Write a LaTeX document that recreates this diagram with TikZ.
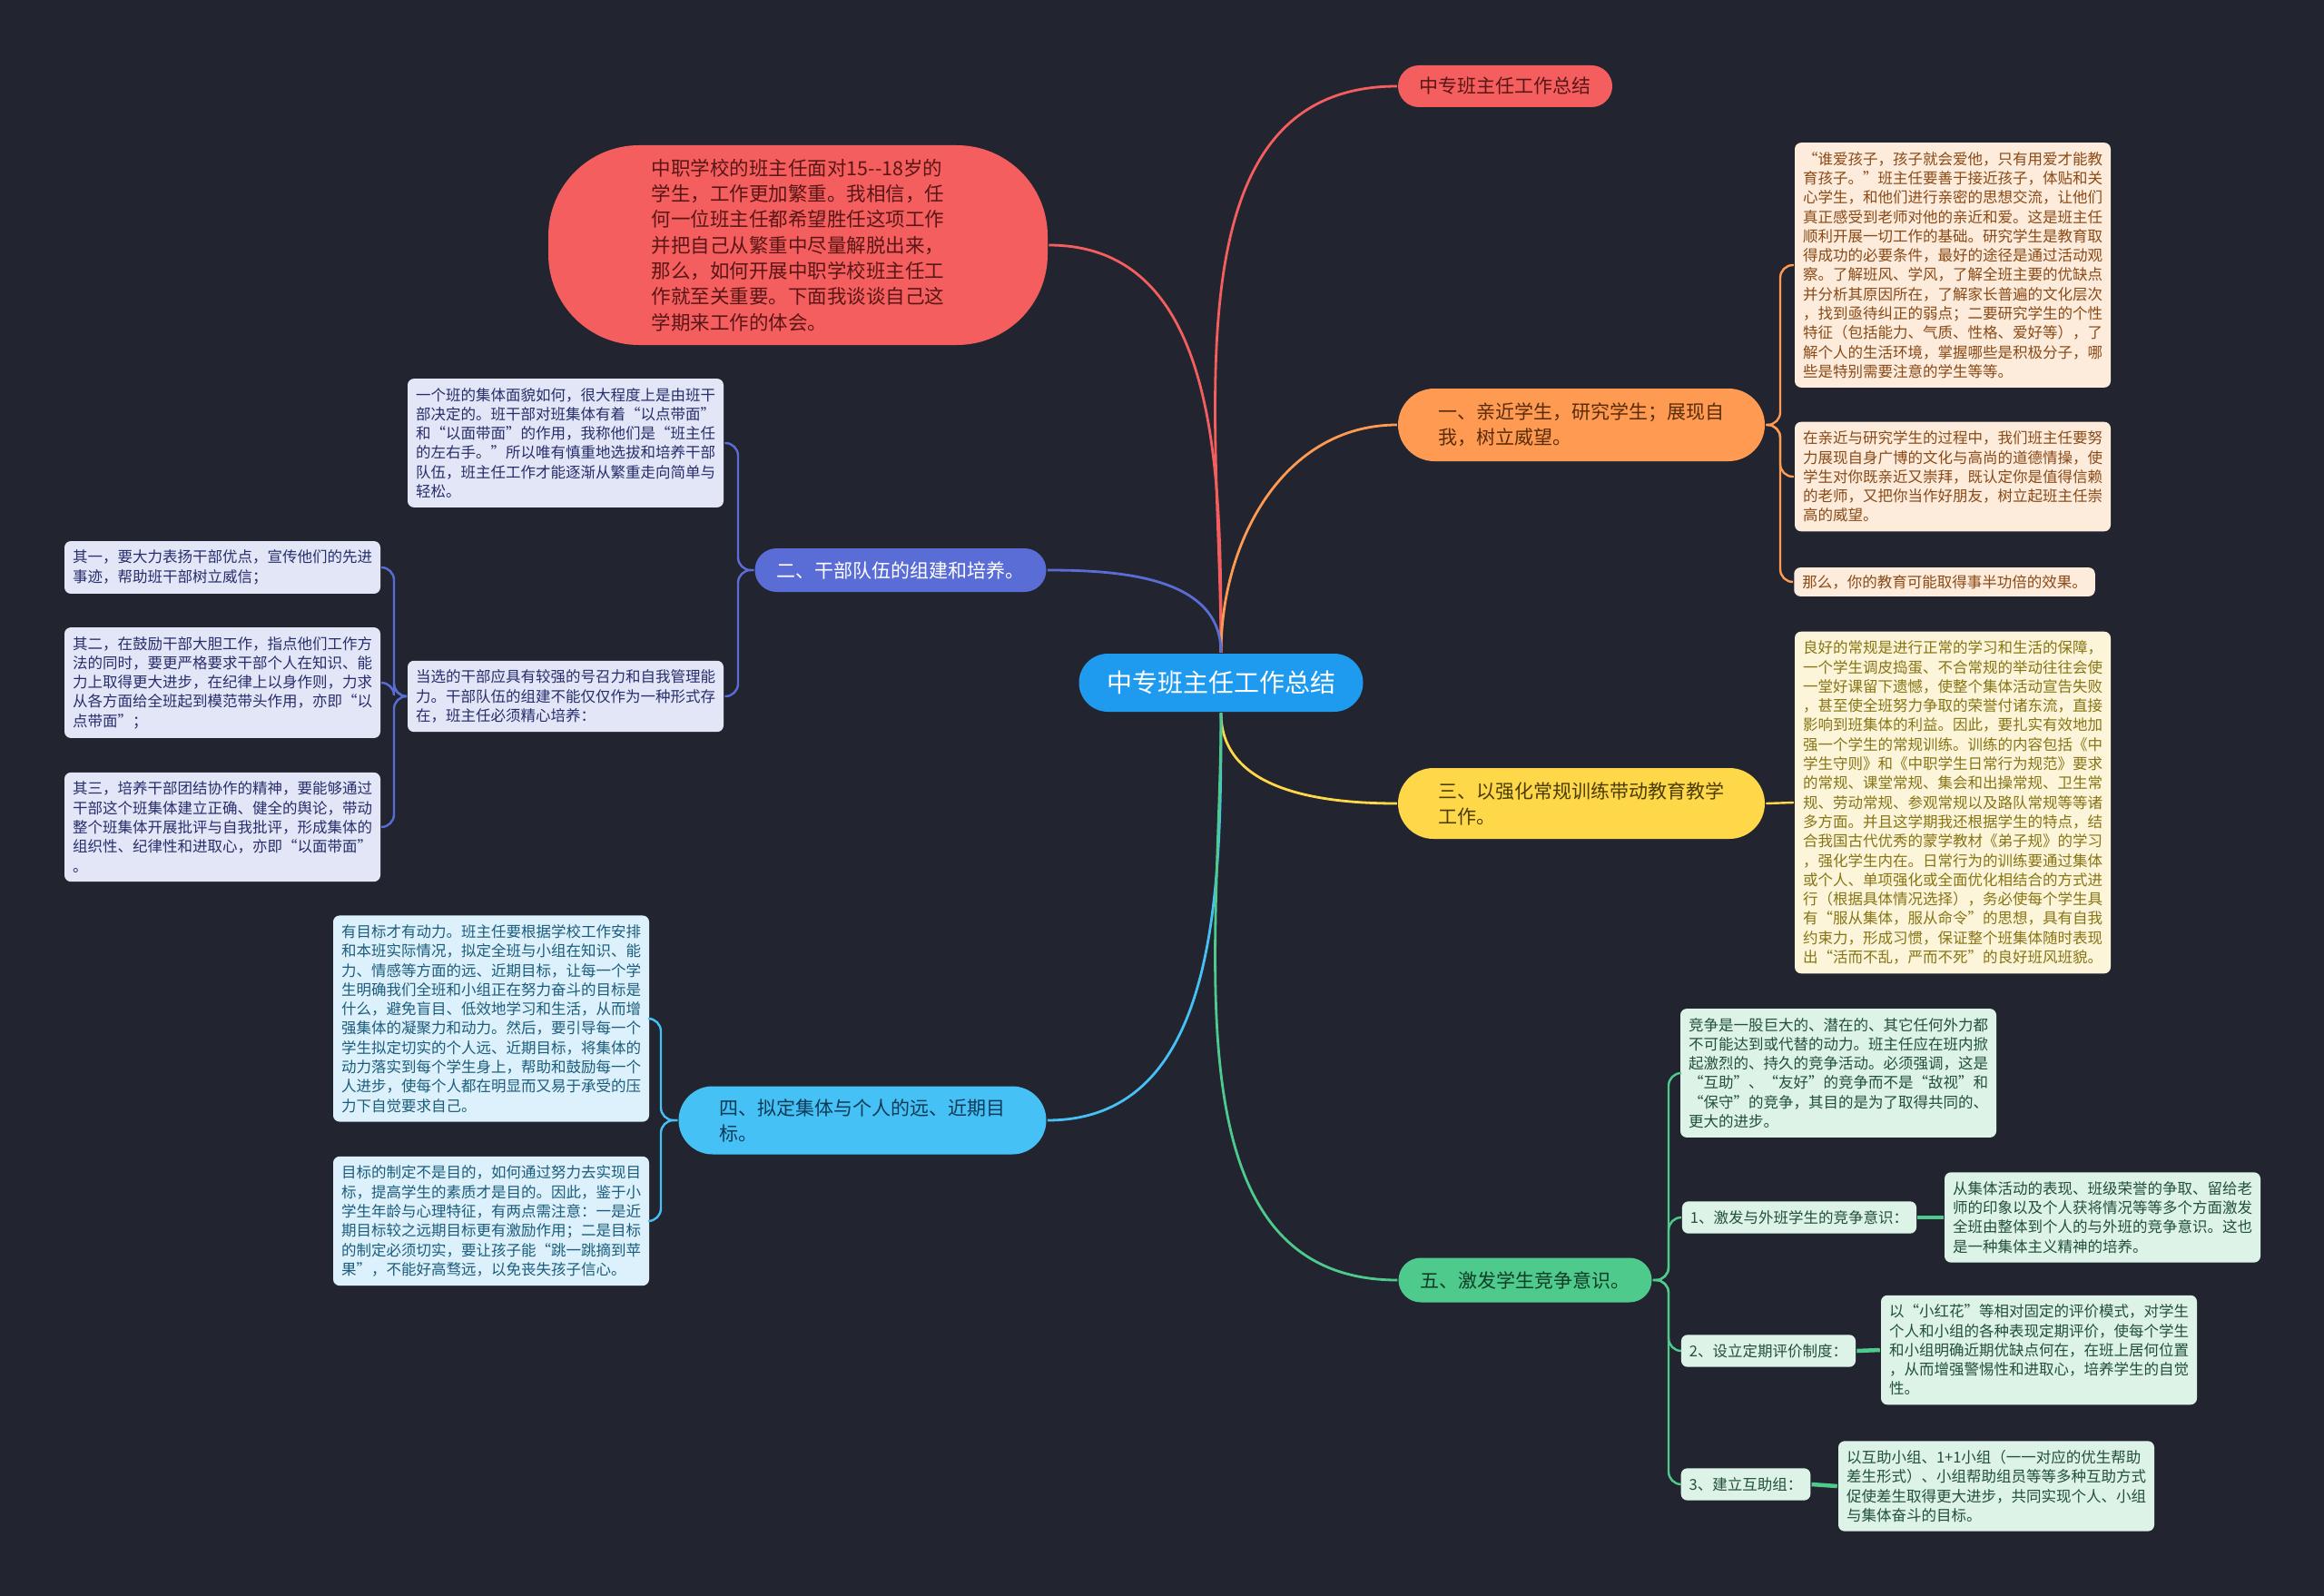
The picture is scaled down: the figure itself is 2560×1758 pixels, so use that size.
\documentclass[tikz,border=0pt]{standalone}
\usepackage{fontspec}
\setmainfont{Noto Sans CJK SC}
\usetikzlibrary{shapes.misc}
\definecolor{cbg}{HTML}{22252F}
\definecolor{croot}{HTML}{1E9BEF}
\definecolor{cred}{HTML}{F55E5E}
\definecolor{corange}{HTML}{FE9A52}
\definecolor{cyellow}{HTML}{FFD84A}
\definecolor{cpurple}{HTML}{5A6CD6}
\definecolor{csky}{HTML}{46C1F6}
\definecolor{cgreen}{HTML}{4FCA8D}
\definecolor{fpeach}{HTML}{FDEBDC}
\definecolor{fcream}{HTML}{FCF5D9}
\definecolor{flav}{HTML}{E3E6F7}
\definecolor{fsky}{HTML}{DCF1FB}
\definecolor{fmint}{HTML}{DDF3E7}
\definecolor{tbrown}{HTML}{8A4A16}
\definecolor{tolive}{HTML}{877414}
\definecolor{tnavy}{HTML}{272E6C}
\definecolor{tteal}{HTML}{1C5D7D}
\definecolor{tgreen}{HTML}{22503A}
\definecolor{dred}{HTML}{5A1616}
\definecolor{dorange}{HTML}{5A2C08}
\definecolor{dyellow}{HTML}{4A3C05}
\definecolor{dsky}{HTML}{0E3A56}
\definecolor{dgreen}{HTML}{0F3D25}
\tikzset{
  every picture/.style={line width=2.5pt},
  topic/.style={rounded rectangle, fill=#1, align=left, inner xsep=2pt, font=\fontsize{21}{28}\selectfont},
  card/.style={fill=#1, rounded corners=7pt, align=left, inner xsep=9pt, inner ysep=10pt, font=\fontsize{16.5}{21.3}\selectfont},
  leaf/.style={card=#1, text width=330pt},
  oleaf/.style={leaf=fpeach, text=tbrown},
  yleaf/.style={leaf=fcream, text=tolive},
  pleaf/.style={leaf=flav, text=tnavy},
  sleaf/.style={leaf=fsky, text=tteal},
  gleaf/.style={leaf=fmint, text=tgreen},
  gtag/.style={card=fmint, text=tgreen},
  link/.style={draw=#1, line width=2.8pt},
  twig/.style={draw=#1, line width=2.4pt, rounded corners=14pt},
}
\begin{document}
\begin{tikzpicture}[x=1pt, y=-1pt]
  \useasboundingbox (0,0) rectangle (2560,1758);
  \fill[cbg] (0,0) rectangle (2560,1758);

  % centre and main topics
  \node[topic=croot, text=white, font=\fontsize{28}{34}\selectfont, minimum width=317pt, minimum height=64pt] (root) at (1345,752) {中专班主任工作总结};
  \node[topic=cred, text=dred, minimum width=240pt, minimum height=46pt] (t0) at (1658,95) {中专班主任工作总结};
  \node[fill=cred, text=dred, rounded corners=100pt, align=left, minimum width=550pt, minimum height=220pt, font=\fontsize{21.5}{28.3}\selectfont] (r0) at (879,270)
    {中职学校的班主任面对15-{}-18岁的\\学生，工作更加繁重。我相信，任\\何一位班主任都希望胜任这项工作\\并把自己从繁重中尽量解脱出来，\\那么，如何开展中职学校班主任工\\作就至关重要。下面我谈谈自己这\\学期来工作的体会。};
  \node[topic=corange, text=dorange, minimum width=408pt, minimum height=80pt] (b1) at (1742,468) {一、亲近学生，研究学生；展现自\\我，树立威望。};
  \node[topic=cpurple, text=white, minimum width=325pt, minimum height=48pt] (b2) at (992,628) {二、干部队伍的组建和培养。};
  \node[topic=cyellow, text=dyellow, minimum width=408pt, minimum height=78pt] (b3) at (1742,885) {三、以强化常规训练带动教育教学\\工作。};
  \node[topic=csky, text=dsky, minimum width=409pt, minimum height=75pt] (b4) at (950,1234) {四、拟定集体与个人的远、近期目\\标。};
  \node[topic=cgreen, text=dgreen, minimum width=283pt, minimum height=49pt] (b5) at (1680,1410) {五、激发学生竞争意识。};

  % branch one
  \node[oleaf] (l11) at (2151,292) {“谁爱孩子，孩子就会爱他，只有用爱才能教\\育孩子。”班主任要善于接近孩子，体贴和关\\心学生，和他们进行亲密的思想交流，让他们\\真正感受到老师对他的亲近和爱。这是班主任\\顺利开展一切工作的基础。研究学生是教育取\\得成功的必要条件，最好的途径是通过活动观\\察。了解班风、学风，了解全班主要的优缺点\\并分析其原因所在，了解家长普遍的文化层次\\，找到亟待纠正的弱点；二要研究学生的个性\\特征（包括能力、气质、性格、爱好等），了\\解个人的生活环境，掌握哪些是积极分子，哪\\些是特别需要注意的学生等等。};
  \node[oleaf] (l12) at (2151,525) {在亲近与研究学生的过程中，我们班主任要努\\力展现自身广博的文化与高尚的道德情操，使\\学生对你既亲近又崇拜，既认定你是值得信赖\\的老师，又把你当作好朋友，树立起班主任崇\\高的威望。};
  \node[card=fpeach, text=tbrown, inner ysep=8pt] (l13) at (2142,641) {那么，你的教育可能取得事半功倍的效果。};

  % branch three
  \node[yleaf] (l31) at (2151,884) {良好的常规是进行正常的学习和生活的保障，\\一个学生调皮捣蛋、不合常规的举动往往会使\\一堂好课留下遗憾，使整个集体活动宣告失败\\，甚至使全班努力争取的荣誉付诸东流，直接\\影响到班集体的利益。因此，要扎实有效地加\\强一个学生的常规训练。训练的内容包括《中\\学生守则》和《中职学生日常行为规范》要求\\的常规、课堂常规、集会和出操常规、卫生常\\规、劳动常规、参观常规以及路队常规等等诸\\多方面。并且这学期我还根据学生的特点，结\\合我国古代优秀的蒙学教材《弟子规》的学习\\，强化学生内在。日常行为的训练要通过集体\\或个人、单项强化或全面优化相结合的方式进\\行（根据具体情况选择），务必使每个学生具\\有“服从集体，服从命令”的思想，具有自我\\约束力，形成习惯，保证整个班集体随时表现\\出“活而不乱，严而不死”的良好班风班貌。};

  % branch two
  \node[pleaf] (l21) at (623,488) {一个班的集体面貌如何，很大程度上是由班干\\部决定的。班干部对班集体有着“以点带面”\\和“以面带面”的作用，我称他们是“班主任\\的左右手。”所以唯有慎重地选拔和培养干部\\队伍，班主任工作才能逐渐从繁重走向简单与\\轻松。};
  \node[pleaf] (l22) at (623,767) {当选的干部应具有较强的号召力和自我管理能\\力。干部队伍的组建不能仅仅作为一种形式存\\在，班主任必须精心培养：};
  \node[pleaf] (l221) at (245,625) {其一，要大力表扬干部优点，宣传他们的先进\\事迹，帮助班干部树立威信；};
  \node[pleaf] (l222) at (245,752) {其二，在鼓励干部大胆工作，指点他们工作方\\法的同时，要更严格要求干部个人在知识、能\\力上取得更大进步，在纪律上以身作则，力求\\从各方面给全班起到模范带头作用，亦即“以\\点带面”；};
  \node[pleaf] (l223) at (245,911) {其三，培养干部团结协作的精神，要能够通过\\干部这个班集体建立正确、健全的舆论，带动\\整个班集体开展批评与自我批评，形成集体的\\组织性、纪律性和进取心，亦即“以面带面”\\。};

  % branch four
  \node[sleaf] (l41) at (541,1122) {有目标才有动力。班主任要根据学校工作安排\\和本班实际情况，拟定全班与小组在知识、能\\力、情感等方面的远、近期目标，让每一个学\\生明确我们全班和小组正在努力奋斗的目标是\\什么，避免盲目、低效地学习和生活，从而增\\强集体的凝聚力和动力。然后，要引导每一个\\学生拟定切实的个人远、近期目标，将集体的\\动力落实到每个学生身上，帮助和鼓励每一个\\人进步，使每个人都在明显而又易于承受的压\\力下自觉要求自己。};
  \node[sleaf] (l42) at (541,1345) {目标的制定不是目的，如何通过努力去实现目\\标，提高学生的素质才是目的。因此，鉴于小\\学生年龄与心理特征，有两点需注意：一是近\\期目标较之远期目标更有激励作用；二是目标\\的制定必须切实，要让孩子能“跳一跳摘到苹\\果”，不能好高骛远，以免丧失孩子信心。};

  % branch five
  \node[gleaf] (l51) at (2025,1182) {竞争是一股巨大的、潜在的、其它任何外力都\\不可能达到或代替的动力。班主任应在班内掀\\起激烈的、持久的竞争活动。必须强调，这是\\“互助”、“友好”的竞争而不是“敌视”和\\“保守”的竞争，其目的是为了取得共同的、\\更大的进步。};
  \node[gtag] (l52) at (1982,1341) {1、激发与外班学生的竞争意识：};
  \node[gleaf] (l521) at (2316,1341) {从集体活动的表现、班级荣誉的争取、留给老\\师的印象以及个人获将情况等等多个方面激发\\全班由整体到个人的与外班的竞争意识。这也\\是一种集体主义精神的培养。};
  \node[gtag] (l53) at (1948,1488) {2、设立定期评价制度：};
  \node[gleaf] (l531) at (2246,1487) {以“小红花”等相对固定的评价模式，对学生\\个人和小组的各种表现定期评价，使每个学生\\和小组明确近期优缺点何在，在班上居何位置\\，从而增强警惕性和进取心，培养学生的自觉\\性。};
  \node[gtag] (l54) at (1923,1635) {3、建立互助组：};
  \node[gleaf] (l541) at (2199,1637) {以互助小组、1+1小组（一一对应的优生帮助\\差生形式）、小组帮助组员等等多种互助方式\\促使差生取得更大进步，共同实现个人、小组\\与集体奋斗的目标。};

  % connectors from the centre
  \draw[link=cred] (root.north) to[out=90, in=180] (t0.west);
  \draw[link=cred] (root.north) to[out=90, in=0] (r0.east);
  \draw[link=corange] (root.north) to[out=90, in=180] (b1.west);
  \draw[link=cpurple] (root.north) to[out=90, in=0] (b2.east);
  \draw[link=cyellow] (root.south) to[out=-90, in=180] (b3.west);
  \draw[link=csky] (root.south) to[out=-90, in=0] (b4.east);
  \draw[link=cgreen] (root.south) to[out=-90, in=180] (b5.west);

  % brackets to the leaves
  \coordinate (j1) at (1961,468);
  \foreach \n in {l11, l12, l13} \draw[twig=corange] (b1.east) -- (j1) |- (\n.west);
  \draw[twig=cyellow] (b3.east) -- (l31.west);
  \coordinate (j2) at (813,628);
  \foreach \n in {l21, l22} \draw[twig=cpurple] (b2.west) -- (j2) |- (\n.east);
  \coordinate (j22) at (434,767);
  \foreach \n in {l221, l222, l223} \draw[twig=cpurple] (l22.west) -- (j22) |- (\n.east);
  \coordinate (j4) at (728,1234);
  \foreach \n in {l41, l42} \draw[twig=csky] (b4.west) -- (j4) |- (\n.east);
  \coordinate (j5) at (1838,1410);
  \foreach \n in {l51, l52, l53, l54} \draw[twig=cgreen] (b5.east) -- (j5) |- (\n.west);
  \foreach \a/\b in {l52/l521, l53/l531, l54/l541} \draw[cgreen, line width=4.5pt] (\a.east) -- (\b.west);
\end{tikzpicture}
\end{document}
